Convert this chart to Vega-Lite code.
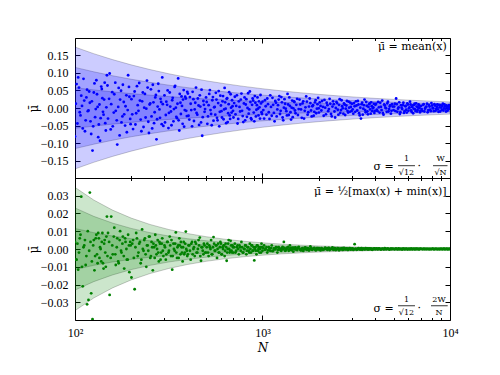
{
  "$schema": "https://vega.github.io/schema/vega-lite/v6.json",
  "padding": {"left": 26, "top": 37, "right": 5, "bottom": 5},
  "spacing": 0,
  "bounds": "flush",
  "config": {
    "view": {"stroke": "#000", "strokeWidth": 1},
    "font": "Liberation Serif",
    "axis": {"grid": false, "domain": false, "tickColor": "#000", "tickWidth": 1, "labelColor": "#000", "labelFont": "Liberation Serif", "labelFontSize": 12, "titleFont": "DejaVu Serif", "titleColor": "#000", "titleFontWeight": "normal", "labelOverlap": false, "minExtent": 0}
  },
  "datasets": {
    "band": [
      {"N":100,"k":1,"ah":0.05774,"al":-0.05774,"bh":0.01155,"bl":-0.01155},
      {"N":125.9,"k":1,"ah":0.05146,"al":-0.05146,"bh":0.00917,"bl":-0.00917},
      {"N":158.5,"k":1,"ah":0.04586,"al":-0.04586,"bh":0.00729,"bl":-0.00729},
      {"N":199.5,"k":1,"ah":0.04087,"al":-0.04087,"bh":0.00579,"bl":-0.00579},
      {"N":251.2,"k":1,"ah":0.03643,"al":-0.03643,"bh":0.0046,"bl":-0.0046},
      {"N":316.2,"k":1,"ah":0.03247,"al":-0.03247,"bh":0.00365,"bl":-0.00365},
      {"N":398.1,"k":1,"ah":0.02894,"al":-0.02894,"bh":0.0029,"bl":-0.0029},
      {"N":501.2,"k":1,"ah":0.02579,"al":-0.02579,"bh":0.0023,"bl":-0.0023},
      {"N":631,"k":1,"ah":0.02299,"al":-0.02299,"bh":0.00183,"bl":-0.00183},
      {"N":794.3,"k":1,"ah":0.02049,"al":-0.02049,"bh":0.00145,"bl":-0.00145},
      {"N":1000,"k":1,"ah":0.01826,"al":-0.01826,"bh":0.00115,"bl":-0.00115},
      {"N":1259,"k":1,"ah":0.01627,"al":-0.01627,"bh":0.00092,"bl":-0.00092},
      {"N":1585,"k":1,"ah":0.0145,"al":-0.0145,"bh":0.00073,"bl":-0.00073},
      {"N":1995,"k":1,"ah":0.01293,"al":-0.01293,"bh":0.00058,"bl":-0.00058},
      {"N":2512,"k":1,"ah":0.01152,"al":-0.01152,"bh":0.00046,"bl":-0.00046},
      {"N":3162,"k":1,"ah":0.01027,"al":-0.01027,"bh":0.00037,"bl":-0.00037},
      {"N":3981,"k":1,"ah":0.00915,"al":-0.00915,"bh":0.00029,"bl":-0.00029},
      {"N":5012,"k":1,"ah":0.00816,"al":-0.00816,"bh":0.00023,"bl":-0.00023},
      {"N":6310,"k":1,"ah":0.00727,"al":-0.00727,"bh":0.00018,"bl":-0.00018},
      {"N":7943,"k":1,"ah":0.00648,"al":-0.00648,"bh":0.00015,"bl":-0.00015},
      {"N":10000,"k":1,"ah":0.00577,"al":-0.00577,"bh":0.00012,"bl":-0.00012},
      {"N":100,"k":2,"ah":0.11547,"al":-0.11547,"bh":0.02309,"bl":-0.02309},
      {"N":125.9,"k":2,"ah":0.10292,"al":-0.10292,"bh":0.01834,"bl":-0.01834},
      {"N":158.5,"k":2,"ah":0.09172,"al":-0.09172,"bh":0.01457,"bl":-0.01457},
      {"N":199.5,"k":2,"ah":0.08174,"al":-0.08174,"bh":0.01157,"bl":-0.01157},
      {"N":251.2,"k":2,"ah":0.07286,"al":-0.07286,"bh":0.00919,"bl":-0.00919},
      {"N":316.2,"k":2,"ah":0.06494,"al":-0.06494,"bh":0.0073,"bl":-0.0073},
      {"N":398.1,"k":2,"ah":0.05788,"al":-0.05788,"bh":0.0058,"bl":-0.0058},
      {"N":501.2,"k":2,"ah":0.05158,"al":-0.05158,"bh":0.00461,"bl":-0.00461},
      {"N":631,"k":2,"ah":0.04598,"al":-0.04598,"bh":0.00366,"bl":-0.00366},
      {"N":794.3,"k":2,"ah":0.04098,"al":-0.04098,"bh":0.00291,"bl":-0.00291},
      {"N":1000,"k":2,"ah":0.03652,"al":-0.03652,"bh":0.00231,"bl":-0.00231},
      {"N":1259,"k":2,"ah":0.03254,"al":-0.03254,"bh":0.00183,"bl":-0.00183},
      {"N":1585,"k":2,"ah":0.029,"al":-0.029,"bh":0.00146,"bl":-0.00146},
      {"N":1995,"k":2,"ah":0.02586,"al":-0.02586,"bh":0.00116,"bl":-0.00116},
      {"N":2512,"k":2,"ah":0.02304,"al":-0.02304,"bh":0.00092,"bl":-0.00092},
      {"N":3162,"k":2,"ah":0.02054,"al":-0.02054,"bh":0.00073,"bl":-0.00073},
      {"N":3981,"k":2,"ah":0.0183,"al":-0.0183,"bh":0.00058,"bl":-0.00058},
      {"N":5012,"k":2,"ah":0.01632,"al":-0.01632,"bh":0.00046,"bl":-0.00046},
      {"N":6310,"k":2,"ah":0.01454,"al":-0.01454,"bh":0.00037,"bl":-0.00037},
      {"N":7943,"k":2,"ah":0.01296,"al":-0.01296,"bh":0.00029,"bl":-0.00029},
      {"N":10000,"k":2,"ah":0.01155,"al":-0.01155,"bh":0.00023,"bl":-0.00023},
      {"N":100,"k":3,"ah":0.17321,"al":-0.17321,"bh":0.03464,"bl":-0.03464},
      {"N":125.9,"k":3,"ah":0.15438,"al":-0.15438,"bh":0.02752,"bl":-0.02752},
      {"N":158.5,"k":3,"ah":0.13758,"al":-0.13758,"bh":0.02186,"bl":-0.02186},
      {"N":199.5,"k":3,"ah":0.12261,"al":-0.12261,"bh":0.01736,"bl":-0.01736},
      {"N":251.2,"k":3,"ah":0.10929,"al":-0.10929,"bh":0.01379,"bl":-0.01379},
      {"N":316.2,"k":3,"ah":0.09741,"al":-0.09741,"bh":0.01095,"bl":-0.01095},
      {"N":398.1,"k":3,"ah":0.08682,"al":-0.08682,"bh":0.0087,"bl":-0.0087},
      {"N":501.2,"k":3,"ah":0.07737,"al":-0.07737,"bh":0.00691,"bl":-0.00691},
      {"N":631,"k":3,"ah":0.06897,"al":-0.06897,"bh":0.00549,"bl":-0.00549},
      {"N":794.3,"k":3,"ah":0.06147,"al":-0.06147,"bh":0.00436,"bl":-0.00436},
      {"N":1000,"k":3,"ah":0.05478,"al":-0.05478,"bh":0.00346,"bl":-0.00346},
      {"N":1259,"k":3,"ah":0.04881,"al":-0.04881,"bh":0.00275,"bl":-0.00275},
      {"N":1585,"k":3,"ah":0.0435,"al":-0.0435,"bh":0.00219,"bl":-0.00219},
      {"N":1995,"k":3,"ah":0.03879,"al":-0.03879,"bh":0.00174,"bl":-0.00174},
      {"N":2512,"k":3,"ah":0.03456,"al":-0.03456,"bh":0.00138,"bl":-0.00138},
      {"N":3162,"k":3,"ah":0.03081,"al":-0.03081,"bh":0.0011,"bl":-0.0011},
      {"N":3981,"k":3,"ah":0.02745,"al":-0.02745,"bh":0.00087,"bl":-0.00087},
      {"N":5012,"k":3,"ah":0.02448,"al":-0.02448,"bh":0.00069,"bl":-0.00069},
      {"N":6310,"k":3,"ah":0.02181,"al":-0.02181,"bh":0.00055,"bl":-0.00055},
      {"N":7943,"k":3,"ah":0.01944,"al":-0.01944,"bh":0.00044,"bl":-0.00044},
      {"N":10000,"k":3,"ah":0.01732,"al":-0.01732,"bh":0.00035,"bl":-0.00035}
    ],
    "pts": [
      {"N":100,"a":-0.081,"b":0.004},{"N":102,"a":0.068,"b":-0.006},{"N":104,"a":0.087,"b":-0.0116},{"N":106,"a":-0.012,"b":0.006},{"N":108,"a":0.035,"b":0.0294},
      {"N":110,"a":-0.058,"b":-0.021},{"N":112,"a":0.021,"b":0.002},{"N":114,"a":-0.035,"b":-0.009},{"N":116,"a":0.052,"b":-0.0311},{"N":118,"a":-0.007,"b":-0.0286},
      {"N":120,"a":0.015,"b":0.0317},{"N":122,"a":-0.074,"b":-0.0249},{"N":124,"a":-0.121,"b":-0.0395},{"N":126,"a":0.044,"b":0.005},{"N":128,"a":-0.026,"b":-0.004},
      {"N":130,"a":0.079,"b":0.008},{"N":132,"a":0.003,"b":-0.008},{"N":134,"a":-0.047,"b":0.006},{"N":136,"a":-0.093,"b":0.001},{"N":138,"a":0.061,"b":-0.007},
      {"N":140,"a":0.028,"b":0.009},{"N":142,"a":-0.019,"b":-0.011},{"N":144,"a":0.072,"b":0.005},{"N":146,"a":-0.064,"b":-0.01},{"N":148,"a":0.093,"b":0.0182},
      {"N":150,"a":-0.03,"b":0.009},{"N":153,"a":0.098,"b":-0.0258},{"N":156,"a":0.011,"b":0.0182},{"N":159,"a":-0.052,"b":-0.003},{"N":162,"a":0.039,"b":0.012},
      {"N":165,"a":-0.008,"b":-0.009},{"N":168,"a":-0.104,"b":0.006},{"N":171,"a":0.057,"b":-0.008},{"N":174,"a":0.024,"b":0.01},{"N":177,"a":-0.041,"b":-0.002},
      {"N":180,"a":0.066,"b":0.007},{"N":183,"a":-0.018,"b":-0.011},{"N":186,"a":0.005,"b":0.004},{"N":189,"a":-0.069,"b":-0.006},{"N":192,"a":0.093,"b":0.008},
      {"N":195,"a":0.032,"b":-0.013},{"N":198,"a":-0.046,"b":0.002},
      {"N":200,"a":0.025,"b":-0.016},{"N":204,"a":-0.06,"b":0.005},{"N":208,"a":0.047,"b":-0.0226},{"N":212,"a":-0.015,"b":0.009},{"N":216,"a":0.008,"b":-0.004},
      {"N":220,"a":0.071,"b":0.003},{"N":224,"a":-0.033,"b":-0.008},{"N":228,"a":0.019,"b":0.011},{"N":232,"a":-0.054,"b":-0.001},{"N":236,"a":0.04,"b":0.006},
      {"N":240,"a":-0.002,"b":-0.01},{"N":244,"a":0.058,"b":0.002},{"N":248,"a":-0.071,"b":0.007},{"N":252,"a":0.013,"b":-0.005},{"N":256,"a":-0.024,"b":0.004},
      {"N":260,"a":0.066,"b":-0.012},{"N":264,"a":-0.043,"b":0.001},{"N":268,"a":0.03,"b":0.008},{"N":272,"a":-0.089,"b":-0.003},{"N":276,"a":0.004,"b":0.005},
      {"N":280,"a":0.048,"b":-0.007},{"N":284,"a":-0.028,"b":0.003},{"N":288,"a":0.017,"b":-0.002},{"N":292,"a":0.087,"b":0.006},{"N":296,"a":-0.051,"b":-0.004},
      {"N":300,"a":0.036,"b":0.002},{"N":305,"a":-0.02,"b":-0.006},{"N":310,"a":0.009,"b":0.004},{"N":315,"a":-0.057,"b":-0.002},{"N":320,"a":0.044,"b":0.007},
      {"N":325,"a":-0.01,"b":-0.004},{"N":330,"a":0.022,"b":-0.0116},{"N":335,"a":-0.038,"b":0.003},{"N":340,"a":0.06,"b":-0.001},{"N":345,"a":0.001,"b":0.0093},
      {"N":350,"a":-0.029,"b":-0.005},{"N":355,"a":0.084,"b":0.002},{"N":360,"a":-0.064,"b":0.006},{"N":365,"a":0.015,"b":-0.003},{"N":370,"a":0.033,"b":0.001},
      {"N":375,"a":-0.045,"b":-0.007},{"N":380,"a":0.051,"b":0.004},{"N":385,"a":-0.006,"b":-0.002},{"N":390,"a":0.027,"b":0.0098},{"N":395,"a":-0.023,"b":-0.001},
      {"N":400,"a":0.041,"b":-0.003},{"N":407,"a":-0.033,"b":0.002},{"N":414,"a":0.012,"b":-0.006},{"N":421,"a":-0.052,"b":0.004},{"N":428,"a":0.025,"b":0.0},
      {"N":435,"a":-0.004,"b":-0.004},{"N":442,"a":0.058,"b":0.003},{"N":449,"a":-0.019,"b":-0.002},{"N":456,"a":0.007,"b":0.005},{"N":463,"a":0.036,"b":0.0064},
      {"N":470,"a":-0.041,"b":-0.0066},{"N":477,"a":-0.079,"b":0.001},{"N":484,"a":0.02,"b":-0.003},{"N":491,"a":-0.011,"b":0.002},
      {"N":500,"a":0.03,"b":-0.002},{"N":508,"a":-0.045,"b":0.003},{"N":516,"a":0.008,"b":-0.004},{"N":524,"a":0.051,"b":0.001},{"N":532,"a":-0.017,"b":0.005},
      {"N":540,"a":0.022,"b":-0.003},{"N":548,"a":-0.036,"b":0.0067},{"N":556,"a":0.003,"b":-0.001},{"N":564,"a":0.043,"b":0.002},{"N":572,"a":-0.028,"b":-0.005},
      {"N":580,"a":0.014,"b":0.003},{"N":588,"a":-0.052,"b":-0.002},{"N":596,"a":0.035,"b":0.004},{"N":604,"a":-0.009,"b":-0.003},{"N":612,"a":0.019,"b":0.001},
      {"N":620,"a":-0.032,"b":0.002},{"N":628,"a":0.057,"b":-0.004},{"N":636,"a":-0.002,"b":0.003},{"N":644,"a":0.026,"b":-0.0066},{"N":652,"a":-0.04,"b":0.0},
      {"N":660,"a":0.011,"b":0.005},{"N":668,"a":-0.021,"b":-0.002},{"N":676,"a":0.039,"b":0.0046},{"N":684,"a":-0.013,"b":-0.001},{"N":692,"a":0.005,"b":0.002},
      {"N":700,"a":-0.027,"b":-0.002},{"N":712,"a":0.032,"b":0.003},{"N":724,"a":0.006,"b":-0.001},{"N":736,"a":-0.044,"b":0.002},{"N":748,"a":0.019,"b":-0.003},
      {"N":760,"a":-0.01,"b":0.001},{"N":772,"a":0.041,"b":0.004},{"N":784,"a":-0.023,"b":-0.002},{"N":796,"a":0.013,"b":0.0},{"N":808,"a":-0.035,"b":0.002},
      {"N":820,"a":0.025,"b":-0.003},{"N":832,"a":0.0,"b":0.001},{"N":844,"a":-0.016,"b":-0.001},{"N":856,"a":0.047,"b":0.003},{"N":868,"a":-0.029,"b":-0.002},
      {"N":880,"a":0.009,"b":0.002},{"N":892,"a":0.021,"b":-0.001},{"N":904,"a":-0.038,"b":-0.0064},{"N":916,"a":0.015,"b":0.001},{"N":928,"a":-0.005,"b":-0.003},
      {"N":940,"a":0.03,"b":0.002},{"N":952,"a":-0.021,"b":0.0},{"N":964,"a":0.002,"b":-0.002},{"N":976,"a":0.037,"b":0.001},{"N":988,"a":-0.012,"b":0.003},
      {"N":1000,"a":0.018,"b":-0.001},{"N":1020,"a":-0.03,"b":0.002},{"N":1040,"a":0.005,"b":0.0},{"N":1060,"a":0.027,"b":-0.002},{"N":1080,"a":-0.012,"b":0.001},
      {"N":1100,"a":0.036,"b":-0.001},{"N":1120,"a":-0.022,"b":0.002},{"N":1140,"a":0.009,"b":-0.001},{"N":1160,"a":-0.038,"b":0.0},{"N":1180,"a":0.015,"b":0.001},
      {"N":1200,"a":-0.004,"b":-0.002},{"N":1220,"a":0.024,"b":0.001},{"N":1240,"a":-0.017,"b":0.0},{"N":1260,"a":0.031,"b":-0.001},{"N":1280,"a":-0.027,"b":0.0012},
      {"N":1300,"a":0.001,"b":0.004},{"N":1320,"a":0.012,"b":-0.001},{"N":1340,"a":-0.009,"b":0.0},{"N":1360,"a":0.04,"b":0.001},{"N":1380,"a":-0.02,"b":-0.001},
      {"N":1400,"a":0.006,"b":0.002},{"N":1420,"a":-0.033,"b":-0.0005},{"N":1440,"a":0.021,"b":0.0008},{"N":1460,"a":-0.001,"b":-0.0015},{"N":1480,"a":0.017,"b":0.0003},
      {"N":1500,"a":-0.015,"b":0.0009},{"N":1530,"a":0.026,"b":-0.0006},{"N":1560,"a":-0.003,"b":0.0012},{"N":1590,"a":0.01,"b":-0.0004},{"N":1620,"a":-0.028,"b":0.0002},
      {"N":1650,"a":0.019,"b":-0.0011},{"N":1680,"a":-0.008,"b":0.0007},{"N":1710,"a":0.033,"b":-0.0002},{"N":1740,"a":-0.019,"b":0.0005},{"N":1770,"a":0.004,"b":-0.0009},
      {"N":1800,"a":0.014,"b":0.0014},{"N":1830,"a":-0.024,"b":-0.0003},{"N":1860,"a":0.008,"b":0.0001},{"N":1890,"a":-0.011,"b":0.0006},{"N":1920,"a":0.022,"b":-0.0007},
      {"N":1950,"a":-0.002,"b":0.0004},{"N":1980,"a":0.029,"b":-0.0001},
      {"N":2000,"a":-0.013,"b":0.0005},{"N":2040,"a":0.006,"b":-0.0008},{"N":2080,"a":0.02,"b":0.0002},{"N":2120,"a":-0.022,"b":-0.0003},{"N":2160,"a":0.001,"b":0.0007},
      {"N":2200,"a":0.015,"b":-0.0001},{"N":2240,"a":-0.009,"b":0.0004},{"N":2280,"a":0.026,"b":-0.0006},{"N":2320,"a":-0.017,"b":0.0001},{"N":2360,"a":0.004,"b":0.0009},
      {"N":2400,"a":0.011,"b":-0.0004},{"N":2440,"a":-0.027,"b":0.0003},{"N":2480,"a":0.017,"b":-0.0002},{"N":2520,"a":-0.005,"b":0.0005},{"N":2560,"a":0.009,"b":-0.0007},
      {"N":2600,"a":-0.014,"b":0.0002},{"N":2640,"a":0.022,"b":0.0},{"N":2680,"a":-0.001,"b":-0.0005},{"N":2720,"a":0.013,"b":0.0006},{"N":2760,"a":-0.02,"b":-0.0002},
      {"N":2800,"a":0.007,"b":0.0003},{"N":2840,"a":-0.008,"b":-0.0004},{"N":2880,"a":0.018,"b":0.0001},{"N":2920,"a":-0.011,"b":0.0004},{"N":2960,"a":0.003,"b":-0.0003},
      {"N":3000,"a":0.012,"b":0.0002},{"N":3050,"a":-0.016,"b":-0.0005},{"N":3100,"a":0.005,"b":0.0027},{"N":3150,"a":0.019,"b":0.0001},{"N":3200,"a":-0.007,"b":-0.0003},
      {"N":3250,"a":0.01,"b":0.0004},{"N":3300,"a":-0.021,"b":-0.0001},{"N":3350,"a":-0.03,"b":0.0003},{"N":3400,"a":0.015,"b":-0.0004},{"N":3450,"a":-0.002,"b":0.0002},
      {"N":3500,"a":0.024,"b":-0.0002},{"N":3550,"a":-0.012,"b":0.0005},{"N":3600,"a":0.006,"b":0.0},{"N":3650,"a":-0.018,"b":-0.0003},{"N":3700,"a":0.011,"b":0.0003},
      {"N":3750,"a":-0.004,"b":-0.0001},{"N":3800,"a":0.016,"b":0.0002},{"N":3850,"a":-0.009,"b":-0.0004},{"N":3900,"a":0.002,"b":0.0001},{"N":3950,"a":-0.014,"b":0.0003},
      {"N":4000,"a":0.009,"b":-0.0002},{"N":4070,"a":-0.005,"b":0.0003},{"N":4140,"a":0.017,"b":-0.0001},{"N":4210,"a":-0.013,"b":0.0002},{"N":4280,"a":0.003,"b":-0.0003},
      {"N":4350,"a":0.021,"b":0.0001},{"N":4420,"a":-0.019,"b":-0.0002},{"N":4490,"a":0.007,"b":0.0004},{"N":4560,"a":-0.001,"b":-0.0001},{"N":4630,"a":0.013,"b":0.0002},
      {"N":4700,"a":-0.01,"b":0.0},{"N":4770,"a":0.004,"b":-0.0003},{"N":4840,"a":-0.016,"b":0.0002},{"N":4910,"a":0.011,"b":-0.0001},
      {"N":5000,"a":-0.006,"b":0.0001},{"N":5080,"a":0.012,"b":-0.0002},{"N":5160,"a":0.027,"b":0.0002},{"N":5240,"a":-0.011,"b":-0.0001},{"N":5320,"a":0.002,"b":0.0003},
      {"N":5400,"a":-0.017,"b":-0.0002},{"N":5480,"a":0.008,"b":0.0001},{"N":5560,"a":-0.003,"b":-0.0003},{"N":5640,"a":0.015,"b":0.0002},{"N":5720,"a":-0.009,"b":0.0},
      {"N":5800,"a":0.005,"b":-0.0001},{"N":5880,"a":-0.013,"b":0.0002},{"N":5960,"a":0.01,"b":-0.0002},{"N":6040,"a":-0.001,"b":0.0001},{"N":6120,"a":0.018,"b":-0.0001},
      {"N":6200,"a":-0.007,"b":0.0002},{"N":6280,"a":0.003,"b":-0.0002},{"N":6360,"a":-0.015,"b":0.0001},{"N":6440,"a":0.009,"b":0.0},{"N":6520,"a":-0.004,"b":-0.0001},
      {"N":6600,"a":0.013,"b":0.0002},{"N":6680,"a":-0.01,"b":-0.0001},{"N":6760,"a":0.001,"b":0.0001},{"N":6840,"a":0.007,"b":-0.0002},{"N":6920,"a":-0.012,"b":0.0001},
      {"N":7000,"a":0.006,"b":0.0001},{"N":7120,"a":-0.008,"b":-0.0001},{"N":7240,"a":0.011,"b":0.0002},{"N":7360,"a":-0.002,"b":-0.0001},{"N":7480,"a":0.004,"b":0.0},
      {"N":7600,"a":-0.012,"b":0.0001},{"N":7720,"a":0.009,"b":-0.0002},{"N":7840,"a":-0.005,"b":0.0001},{"N":7960,"a":0.014,"b":-0.0001},{"N":8080,"a":0.0,"b":0.0002},
      {"N":8200,"a":-0.009,"b":-0.0001},{"N":8320,"a":0.007,"b":0.0},{"N":8440,"a":-0.003,"b":0.0001},{"N":8560,"a":0.01,"b":-0.0001},{"N":8680,"a":-0.011,"b":0.0001},
      {"N":8800,"a":0.002,"b":-0.0002},{"N":8920,"a":0.008,"b":0.0001},{"N":9040,"a":-0.006,"b":0.0},{"N":9160,"a":0.012,"b":-0.0001},{"N":9280,"a":-0.001,"b":0.0002},
      {"N":9400,"a":0.005,"b":-0.0001},{"N":9520,"a":-0.01,"b":0.0001},{"N":9640,"a":0.003,"b":0.0},{"N":9760,"a":-0.004,"b":-0.0001},{"N":9880,"a":0.008,"b":0.0001},
      {"N":10000,"a":-0.002,"b":0.0},
      {"N":101,"a":0.012,"b":-0.006},{"N":103,"a":-0.044,"b":0.003},{"N":105,"a":0.058,"b":-0.002},{"N":107,"a":-0.021,"b":0.008},{"N":109,"a":0.006,"b":-0.01},
      {"N":111,"a":0.083,"b":0.001},{"N":113,"a":-0.066,"b":0.005},{"N":115,"a":0.03,"b":-0.004},{"N":117,"a":-0.009,"b":0.01},{"N":119,"a":0.047,"b":-0.001},
      {"N":121,"a":-0.038,"b":0.004},{"N":123,"a":0.019,"b":-0.007},{"N":125,"a":-0.052,"b":0.002},{"N":127,"a":0.07,"b":-0.012},{"N":129,"a":-0.003,"b":0.006},
      {"N":131,"a":0.039,"b":-0.003},{"N":133,"a":-0.083,"b":0.009},{"N":135,"a":0.01,"b":-0.005},{"N":137,"a":-0.029,"b":0.0},{"N":139,"a":0.054,"b":0.004},
      {"N":141,"a":-0.011,"b":-0.008},{"N":143,"a":0.024,"b":0.003},{"N":145,"a":-0.043,"b":-0.002},{"N":147,"a":0.002,"b":0.007},{"N":149,"a":0.064,"b":-0.004},
      {"N":152,"a":0.026,"b":0.004},{"N":155,"a":-0.061,"b":-0.005},{"N":158,"a":0.045,"b":0.002},{"N":161,"a":-0.013,"b":0.007},{"N":164,"a":0.072,"b":-0.003},
      {"N":167,"a":-0.035,"b":0.001},{"N":170,"a":0.003,"b":-0.007},{"N":173,"a":-0.078,"b":0.005},{"N":176,"a":0.049,"b":-0.001},{"N":179,"a":-0.024,"b":0.003},
      {"N":182,"a":0.017,"b":-0.004},{"N":185,"a":-0.05,"b":0.006},{"N":188,"a":0.036,"b":0.0},{"N":191,"a":-0.006,"b":-0.006},{"N":194,"a":0.06,"b":0.002},
      {"N":197,"a":-0.031,"b":0.004},
      {"N":202,"a":-0.018,"b":0.003},{"N":206,"a":0.034,"b":-0.005},{"N":210,"a":-0.047,"b":0.001},{"N":214,"a":0.062,"b":0.006},{"N":218,"a":-0.008,"b":-0.002},
      {"N":222,"a":0.021,"b":0.004},{"N":226,"a":-0.066,"b":-0.006},{"N":230,"a":0.044,"b":0.0},{"N":234,"a":0.001,"b":0.005},{"N":238,"a":-0.027,"b":-0.003},
      {"N":242,"a":0.078,"b":0.002},{"N":246,"a":-0.039,"b":-0.001},{"N":250,"a":0.01,"b":0.007},{"N":254,"a":0.053,"b":-0.004},{"N":258,"a":-0.058,"b":0.001},
      {"N":262,"a":0.016,"b":0.003},{"N":266,"a":-0.012,"b":-0.005},{"N":270,"a":0.037,"b":0.002},{"N":274,"a":-0.032,"b":0.0},{"N":278,"a":0.069,"b":-0.002},
      {"N":282,"a":-0.004,"b":0.004},{"N":286,"a":0.026,"b":-0.006},{"N":290,"a":-0.046,"b":0.003},{"N":294,"a":0.011,"b":-0.001},
      {"N":302,"a":-0.041,"b":0.001},{"N":307,"a":0.018,"b":-0.003},{"N":312,"a":0.05,"b":0.004},{"N":317,"a":-0.014,"b":-0.001},{"N":322,"a":0.004,"b":0.002},
      {"N":327,"a":-0.049,"b":0.005},{"N":332,"a":0.029,"b":-0.004},{"N":337,"a":-0.003,"b":0.0},{"N":342,"a":0.063,"b":0.003},{"N":347,"a":-0.025,"b":-0.002},
      {"N":352,"a":0.012,"b":0.001},{"N":357,"a":-0.035,"b":-0.005},{"N":362,"a":0.04,"b":0.002},{"N":367,"a":-0.017,"b":0.004},{"N":372,"a":0.006,"b":-0.002},
      {"N":377,"a":0.024,"b":0.001},{"N":382,"a":-0.053,"b":-0.003},{"N":387,"a":0.032,"b":0.003},{"N":392,"a":-0.008,"b":0.0},{"N":397,"a":0.046,"b":-0.004},
      {"N":403,"a":-0.022,"b":0.002},{"N":410,"a":0.031,"b":-0.001},{"N":417,"a":-0.006,"b":0.003},{"N":424,"a":0.046,"b":-0.003},{"N":431,"a":-0.037,"b":0.001},
      {"N":438,"a":0.015,"b":0.004},{"N":445,"a":-0.014,"b":-0.002},{"N":452,"a":0.027,"b":0.0},{"N":459,"a":-0.048,"b":0.002},{"N":466,"a":0.004,"b":-0.004},
      {"N":473,"a":0.052,"b":0.001},{"N":480,"a":-0.026,"b":-0.001},{"N":487,"a":0.009,"b":0.003},{"N":494,"a":-0.003,"b":-0.002},
      {"N":504,"a":0.017,"b":0.001},{"N":512,"a":-0.024,"b":-0.002},{"N":520,"a":0.04,"b":0.002},{"N":528,"a":-0.006,"b":0.0},{"N":536,"a":-0.049,"b":-0.003},
      {"N":544,"a":0.031,"b":0.001},{"N":552,"a":0.002,"b":0.003},{"N":560,"a":-0.019,"b":-0.001},{"N":568,"a":0.024,"b":0.002},{"N":576,"a":-0.035,"b":0.0},
      {"N":584,"a":0.048,"b":-0.002},{"N":592,"a":-0.011,"b":0.001},{"N":600,"a":0.007,"b":0.003},{"N":608,"a":-0.027,"b":-0.003},{"N":616,"a":0.034,"b":0.0},
      {"N":624,"a":-0.004,"b":0.002},{"N":632,"a":0.016,"b":-0.001},{"N":640,"a":-0.043,"b":0.001},{"N":648,"a":0.028,"b":-0.002},{"N":656,"a":-0.015,"b":0.003},
      {"N":664,"a":0.045,"b":0.0},{"N":672,"a":-0.031,"b":-0.001},{"N":680,"a":0.001,"b":0.002},{"N":688,"a":0.022,"b":-0.002},{"N":696,"a":-0.008,"b":0.001},
      {"N":706,"a":0.014,"b":0.001},{"N":718,"a":-0.018,"b":-0.002},{"N":730,"a":0.036,"b":0.001},{"N":742,"a":-0.031,"b":0.0},{"N":754,"a":0.003,"b":0.002},
      {"N":766,"a":0.024,"b":-0.001},{"N":778,"a":-0.008,"b":0.001},{"N":790,"a":-0.04,"b":-0.002},{"N":802,"a":0.03,"b":0.0},{"N":814,"a":0.01,"b":0.002},
      {"N":826,"a":-0.025,"b":-0.001},{"N":838,"a":0.042,"b":0.001},{"N":850,"a":-0.004,"b":-0.002},{"N":862,"a":0.017,"b":0.0},{"N":874,"a":-0.033,"b":0.002},
      {"N":886,"a":0.027,"b":-0.001},{"N":898,"a":-0.013,"b":0.001},{"N":910,"a":0.034,"b":0.0},{"N":922,"a":-0.024,"b":-0.001},{"N":934,"a":0.008,"b":0.002},
      {"N":946,"a":-0.002,"b":-0.001},{"N":958,"a":0.019,"b":0.001},{"N":970,"a":-0.03,"b":0.0},{"N":982,"a":0.013,"b":-0.002},{"N":994,"a":-0.017,"b":0.001},
      {"N":1010,"a":-0.006,"b":0.0006},{"N":1030,"a":0.022,"b":-0.0004},{"N":1050,"a":-0.019,"b":0.0011},{"N":1070,"a":0.011,"b":-0.0008},{"N":1090,"a":-0.031,"b":0.0002},
      {"N":1110,"a":0.003,"b":0.0005},{"N":1130,"a":0.029,"b":-0.0012},{"N":1150,"a":-0.014,"b":0.0003},{"N":1170,"a":0.02,"b":-0.0002},{"N":1190,"a":-0.024,"b":0.0009},
      {"N":1210,"a":0.008,"b":-0.0005},{"N":1230,"a":0.034,"b":0.0001},{"N":1250,"a":-0.008,"b":-0.0007},{"N":1270,"a":0.016,"b":0.0004},{"N":1290,"a":-0.035,"b":-0.0001},
      {"N":1310,"a":0.025,"b":0.0006},{"N":1330,"a":-0.002,"b":-0.0009},{"N":1350,"a":-0.021,"b":0.0002},{"N":1370,"a":0.01,"b":0.001},{"N":1390,"a":0.03,"b":-0.0003},
      {"N":1410,"a":-0.012,"b":0.0005},{"N":1430,"a":0.001,"b":-0.0006},{"N":1450,"a":-0.026,"b":0.0001},{"N":1470,"a":0.019,"b":0.0007},{"N":1490,"a":-0.007,"b":-0.0002},
      {"N":1515,"a":0.009,"b":-0.0003},{"N":1545,"a":-0.02,"b":0.0006},{"N":1575,"a":0.024,"b":0.0001},{"N":1605,"a":-0.004,"b":-0.0008},{"N":1635,"a":0.013,"b":0.0004},
      {"N":1665,"a":-0.03,"b":-0.0002},{"N":1695,"a":0.002,"b":0.0009},{"N":1725,"a":0.018,"b":-0.0005},{"N":1755,"a":-0.012,"b":0.0002},{"N":1785,"a":0.027,"b":-0.0001},
      {"N":1815,"a":-0.007,"b":0.0006},{"N":1845,"a":0.005,"b":-0.0004},{"N":1875,"a":-0.022,"b":0.0003},{"N":1905,"a":0.016,"b":0.0},{"N":1935,"a":-0.015,"b":-0.0006},
      {"N":1965,"a":0.011,"b":0.0005},{"N":1995,"a":-0.001,"b":-0.0002},
      {"N":2020,"a":0.016,"b":-0.0002},{"N":2060,"a":-0.007,"b":0.0004},{"N":2100,"a":0.003,"b":-0.0005},{"N":2140,"a":0.023,"b":0.0001},{"N":2180,"a":-0.018,"b":0.0003},
      {"N":2220,"a":0.008,"b":-0.0004},{"N":2260,"a":-0.003,"b":0.0006},{"N":2300,"a":0.012,"b":-0.0001},{"N":2340,"a":-0.024,"b":0.0002},{"N":2380,"a":0.019,"b":-0.0003},
      {"N":2420,"a":-0.01,"b":0.0004},{"N":2460,"a":0.0,"b":-0.0006},{"N":2500,"a":0.014,"b":0.0001},{"N":2540,"a":-0.019,"b":0.0003},{"N":2580,"a":0.025,"b":-0.0002},
      {"N":2620,"a":-0.006,"b":0.0},{"N":2660,"a":0.005,"b":0.0005},{"N":2700,"a":-0.016,"b":-0.0003},{"N":2740,"a":0.01,"b":0.0002},{"N":2780,"a":-0.002,"b":-0.0001},
      {"N":2820,"a":0.02,"b":0.0003},{"N":2860,"a":-0.013,"b":-0.0005},{"N":2900,"a":0.001,"b":0.0002},{"N":2940,"a":0.015,"b":-0.0002},{"N":2980,"a":-0.009,"b":0.0001},
      {"N":3025,"a":-0.004,"b":0.0003},{"N":3075,"a":0.014,"b":-0.0002},{"N":3125,"a":-0.011,"b":0.0001},{"N":3175,"a":0.007,"b":-0.0004},{"N":3225,"a":0.02,"b":0.0002},
      {"N":3275,"a":-0.015,"b":0.0},{"N":3325,"a":0.001,"b":-0.0003},{"N":3375,"a":0.011,"b":0.0004},{"N":3425,"a":-0.019,"b":-0.0001},{"N":3475,"a":0.008,"b":0.0002},
      {"N":3525,"a":-0.006,"b":-0.0002},{"N":3575,"a":0.017,"b":0.0001},{"N":3625,"a":-0.01,"b":0.0003},{"N":3675,"a":0.003,"b":-0.0001},{"N":3725,"a":0.013,"b":0.0},
      {"N":3775,"a":-0.016,"b":0.0002},{"N":3825,"a":0.005,"b":-0.0003},{"N":3875,"a":-0.001,"b":0.0001},{"N":3925,"a":0.012,"b":-0.0001},{"N":3975,"a":-0.008,"b":0.0002},
      {"N":4035,"a":0.012,"b":0.0001},{"N":4105,"a":-0.009,"b":-0.0002},{"N":4175,"a":0.002,"b":0.0003},{"N":4245,"a":0.015,"b":-0.0001},{"N":4315,"a":-0.006,"b":0.0},
      {"N":4385,"a":-0.014,"b":0.0002},{"N":4455,"a":0.01,"b":-0.0002},{"N":4525,"a":0.001,"b":0.0001},{"N":4595,"a":-0.011,"b":-0.0001},{"N":4665,"a":0.018,"b":0.0002},
      {"N":4735,"a":-0.003,"b":-0.0002},{"N":4805,"a":0.008,"b":0.0001},{"N":4875,"a":-0.008,"b":0.0},{"N":4945,"a":0.004,"b":0.0002},
      {"N":5040,"a":0.004,"b":-0.0001},{"N":5120,"a":-0.009,"b":0.0002},{"N":5200,"a":0.011,"b":0.0},{"N":5280,"a":-0.002,"b":-0.0002},{"N":5360,"a":0.016,"b":0.0001},
      {"N":5440,"a":-0.012,"b":0.0001},{"N":5520,"a":0.001,"b":-0.0001},{"N":5600,"a":0.008,"b":0.0002},{"N":5680,"a":-0.014,"b":-0.0001},{"N":5760,"a":0.006,"b":0.0},
      {"N":5840,"a":-0.005,"b":0.0001},{"N":5920,"a":0.013,"b":-0.0002},{"N":6000,"a":-0.008,"b":0.0001},{"N":6080,"a":0.002,"b":0.0},{"N":6160,"a":0.01,"b":-0.0001},
      {"N":6240,"a":-0.011,"b":0.0002},{"N":6320,"a":0.007,"b":-0.0001},{"N":6400,"a":-0.002,"b":0.0001},{"N":6480,"a":0.012,"b":0.0},{"N":6560,"a":-0.009,"b":-0.0001},
      {"N":6640,"a":0.004,"b":0.0001},{"N":6720,"a":-0.006,"b":0.0001},{"N":6800,"a":0.01,"b":-0.0001},{"N":6880,"a":0.0,"b":0.0},{"N":6960,"a":-0.008,"b":0.0001},
      {"N":7060,"a":-0.003,"b":0.0001},{"N":7180,"a":0.009,"b":-0.0001},{"N":7300,"a":-0.01,"b":0.0},{"N":7420,"a":0.002,"b":0.0001},{"N":7540,"a":0.012,"b":-0.0001},
      {"N":7660,"a":-0.006,"b":0.0001},{"N":7780,"a":0.004,"b":0.0},{"N":7900,"a":-0.009,"b":-0.0001},{"N":8020,"a":0.007,"b":0.0001},{"N":8140,"a":-0.001,"b":0.0},
      {"N":8260,"a":0.011,"b":-0.0001},{"N":8380,"a":-0.008,"b":0.0001},{"N":8500,"a":0.003,"b":0.0},{"N":8620,"a":-0.004,"b":-0.0001},{"N":8740,"a":0.009,"b":0.0001},
      {"N":8860,"a":-0.01,"b":0.0},{"N":8980,"a":0.001,"b":0.0001},{"N":9100,"a":0.006,"b":-0.0001},{"N":9220,"a":-0.007,"b":0.0001},{"N":9340,"a":0.01,"b":0.0},
      {"N":9460,"a":-0.002,"b":-0.0001},{"N":9580,"a":0.007,"b":0.0001},{"N":9700,"a":-0.008,"b":0.0},{"N":9820,"a":0.004,"b":-0.0001},{"N":9940,"a":0.0,"b":0.0001}
    ]
  },
  "vconcat": [
    {
      "width": 375, "height": 140,
      "resolve": {"axis": {"x": "independent", "y": "independent"}},
      "layer": [
        {
          "data": {"name": "band"},
          "mark": {"type": "area", "color": "#0000ff", "fillOpacity": 0.2, "stroke": "#000", "strokeOpacity": 0.2, "strokeWidth": 1, "clip": true},
          "encoding": {
            "x": {"field": "N", "type": "quantitative", "scale": {"type": "log", "domain": [100, 10000], "nice": false}, "axis": {"orient": "bottom", "values": [100, 1000, 10000], "labels": false, "tickSize": -5, "title": null}},
            "y": {"field": "ah", "type": "quantitative", "scale": {"domain": [-0.199, 0.199], "nice": false, "zero": false}, "axis": {"orient": "left", "values": [-0.15, -0.1, -0.05, 0, 0.05, 0.1, 0.15], "format": ".2f", "tickSize": -5, "labelPadding": 12, "title": "μ̄", "titleFontSize": 12, "titlePadding": 0}},
            "y2": {"field": "al"},
            "detail": {"field": "k"}
          }
        },
        {
          "data": {"name": "pts"},
          "mark": {"type": "circle", "color": "#0000ff", "opacity": 1, "size": 8, "clip": true},
          "encoding": {
            "x": {"field": "N", "type": "quantitative", "axis": {"orient": "bottom", "values": [200,300,400,500,600,700,800,900,2000,3000,4000,5000,6000,7000,8000,9000], "labels": false, "tickSize": -2.5, "title": null}},
            "y": {"field": "a", "type": "quantitative", "axis": {"orient": "right", "values": [-0.15, -0.1, -0.05, 0, 0.05, 0.1, 0.15], "labels": false, "tickSize": -5, "title": null}}
          }
        },
        {
          "data": {"values": [{"t": "μ̄ = mean(x)"}]},
          "mark": {"type": "text", "align": "right", "baseline": "middle", "font": "DejaVu Serif", "fontSize": 11, "color": "#000"},
          "encoding": {
            "x": {"datum": 9600, "type": "quantitative", "axis": {"orient": "top", "values": [100, 1000, 10000], "labels": false, "tickSize": -5, "title": null}},
            "y": {"datum": 0.173, "type": "quantitative", "axis": null},
            "text": {"field": "t"}
          }
        },
        {
          "data": {"values": [{"N": 4419, "v": -0.1677, "t": "σ ="}, {"N": 6861, "v": -0.1677, "t": "·"}]},
          "mark": {"type": "text", "align": "center", "baseline": "middle", "font": "DejaVu Serif", "fontSize": 11, "color": "#000"},
          "encoding": {
            "x": {"field": "N", "type": "quantitative", "axis": {"orient": "top", "values": [200,300,400,500,600,700,800,900,2000,3000,4000,5000,6000,7000,8000,9000], "labels": false, "tickSize": -2.5, "title": null}},
            "y": {"field": "v", "type": "quantitative", "axis": null},
            "text": {"field": "t"}
          }
        },
        {
          "data": {"values": [{"N": 5861, "v": -0.145, "t": "1"}, {"N": 5861, "v": -0.1834, "t": "√12"}, {"N": 8900, "v": -0.145, "t": "W"}, {"N": 8900, "v": -0.1834, "t": "√N"}]},
          "mark": {"type": "text", "align": "center", "baseline": "middle", "font": "DejaVu Serif", "fontSize": 8, "color": "#000"},
          "encoding": {
            "x": {"field": "N", "type": "quantitative", "axis": null},
            "y": {"field": "v", "type": "quantitative", "axis": null},
            "text": {"field": "t"}
          }
        },
        {
          "data": {"values": [{"N": 5282, "N2": 6506, "v": -0.164}, {"N": 8118, "N2": 9699, "v": -0.164}]},
          "mark": {"type": "rule", "color": "#000", "strokeWidth": 0.8},
          "encoding": {
            "x": {"field": "N", "type": "quantitative", "axis": null},
            "x2": {"field": "N2"},
            "y": {"field": "v", "type": "quantitative", "axis": null}
          }
        }
      ]
    },
    {
      "width": 375, "height": 142,
      "resolve": {"axis": {"x": "independent", "y": "independent"}},
      "layer": [
        {
          "data": {"name": "band"},
          "mark": {"type": "area", "color": "#008000", "fillOpacity": 0.2, "stroke": "#000", "strokeOpacity": 0.2, "strokeWidth": 1, "clip": true},
          "encoding": {
            "x": {"field": "N", "type": "quantitative", "scale": {"type": "log", "domain": [100, 10000], "nice": false}, "axis": {"orient": "bottom", "values": [100, 1000, 10000], "tickSize": -5, "labelPadding": 12, "labelFlush": false, "labelExpr": "datum.value == 100 ? '10²' : datum.value == 1000 ? '10³' : '10⁴'", "title": "N", "titleFontStyle": "italic", "titleFontSize": 12, "titlePadding": 4}},
            "y": {"field": "bh", "type": "quantitative", "scale": {"domain": [-0.0399, 0.0399], "nice": false, "zero": false}, "axis": {"orient": "left", "values": [-0.03, -0.02, -0.01, 0, 0.01, 0.02, 0.03], "format": ".2f", "tickSize": -5, "labelPadding": 12, "title": "μ̄", "titleFontSize": 12, "titlePadding": 0}},
            "y2": {"field": "bl"},
            "detail": {"field": "k"}
          }
        },
        {
          "data": {"name": "pts"},
          "mark": {"type": "circle", "color": "#008000", "opacity": 1, "size": 8, "clip": true},
          "encoding": {
            "x": {"field": "N", "type": "quantitative", "axis": {"orient": "bottom", "values": [200,300,400,500,600,700,800,900,2000,3000,4000,5000,6000,7000,8000,9000], "labels": false, "tickSize": -2.5, "title": null}},
            "y": {"field": "b", "type": "quantitative", "axis": {"orient": "right", "values": [-0.03, -0.02, -0.01, 0, 0.01, 0.02, 0.03], "labels": false, "tickSize": -5, "title": null}}
          }
        },
        {
          "data": {"values": [{"t": "μ̄ = ½[max(x) + min(x)]"}]},
          "mark": {"type": "text", "align": "right", "baseline": "middle", "font": "DejaVu Serif", "fontSize": 11, "color": "#000"},
          "encoding": {
            "x": {"datum": 9600, "type": "quantitative", "axis": {"orient": "top", "values": [100, 1000, 10000], "labels": false, "tickSize": -5, "title": null}},
            "y": {"datum": 0.0318, "type": "quantitative", "axis": null},
            "text": {"field": "t"}
          }
        },
        {
          "data": {"values": [{"N": 4419, "v": -0.0337, "t": "σ ="}, {"N": 6861, "v": -0.0337, "t": "·"}]},
          "mark": {"type": "text", "align": "center", "baseline": "middle", "font": "DejaVu Serif", "fontSize": 11, "color": "#000"},
          "encoding": {
            "x": {"field": "N", "type": "quantitative", "axis": {"orient": "top", "values": [200,300,400,500,600,700,800,900,2000,3000,4000,5000,6000,7000,8000,9000], "labels": false, "tickSize": -2.5, "title": null}},
            "y": {"field": "v", "type": "quantitative", "axis": null},
            "text": {"field": "t"}
          }
        },
        {
          "data": {"values": [{"N": 5861, "v": -0.0287, "t": "1"}, {"N": 5861, "v": -0.036, "t": "√12"}, {"N": 8737, "v": -0.0287, "t": "2W"}, {"N": 8737, "v": -0.036, "t": "N"}]},
          "mark": {"type": "text", "align": "center", "baseline": "middle", "font": "DejaVu Serif", "fontSize": 8, "color": "#000"},
          "encoding": {
            "x": {"field": "N", "type": "quantitative", "axis": null},
            "y": {"field": "v", "type": "quantitative", "axis": null},
            "text": {"field": "t"}
          }
        },
        {
          "data": {"values": [{"N": 5282, "N2": 6506, "v": -0.0319}, {"N": 7920, "N2": 9721, "v": -0.0319}]},
          "mark": {"type": "rule", "color": "#000", "strokeWidth": 0.8},
          "encoding": {
            "x": {"field": "N", "type": "quantitative", "axis": null},
            "x2": {"field": "N2"},
            "y": {"field": "v", "type": "quantitative", "axis": null}
          }
        }
      ]
    }
  ]
}
